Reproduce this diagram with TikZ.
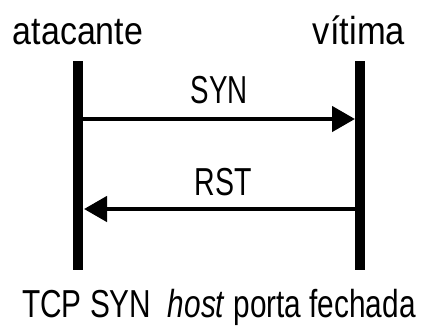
\documentclass[tikz,border=0pt]{standalone}
\usepackage{graphicx}
\usepackage{fontspec}
\setmainfont{Liberation Sans}
\usetikzlibrary{arrows.meta}
\begin{document}
\begin{tikzpicture}[x=1pt,y=-1pt,
  lbl/.style={inner sep=0pt, font=\fontsize{39}{42}\selectfont},
  lifeline/.style={line width=10pt},
  msg/.style={line width=4.5pt, -{Triangle[length=23pt,width=25pt]}}]
\useasboundingbox (0,0) rectangle (421,327);
% participants
\node[lbl, anchor=base] (att) at (78,44) {\scalebox{0.87}[1]{atacante}};
\node[lbl, anchor=base] (vit) at (359,44) {\scalebox{0.885}[1]{vítima}};
% lifelines
\coordinate (lt) at (78,61);
\coordinate (lb) at (78,270);
\coordinate (rt) at (360,61);
\coordinate (rb) at (360,270);
\draw[lifeline] (lt) -- (lb);
\draw[lifeline] (rt) -- (rb);
% messages
\coordinate (s1) at (83,119);
\coordinate (s2) at (355,119);
\draw[msg] (s1) -- (s2);
\coordinate (r1) at (355,209);
\coordinate (r2) at (84,209);
\draw[msg] (r1) -- (r2);
\node[lbl, anchor=base] (syn) at (219.5,103) {\scalebox{0.711}[1]{SYN}};
\node[lbl, anchor=base] (rst) at (223.5,195) {\scalebox{0.731}[1]{RST}};
% caption
\node[lbl, anchor=base west] (cap) at (22,317) {\scalebox{0.764}[1]{TCP SYN\ \ \textit{host} porta fechada}};
\end{tikzpicture}
\end{document}
